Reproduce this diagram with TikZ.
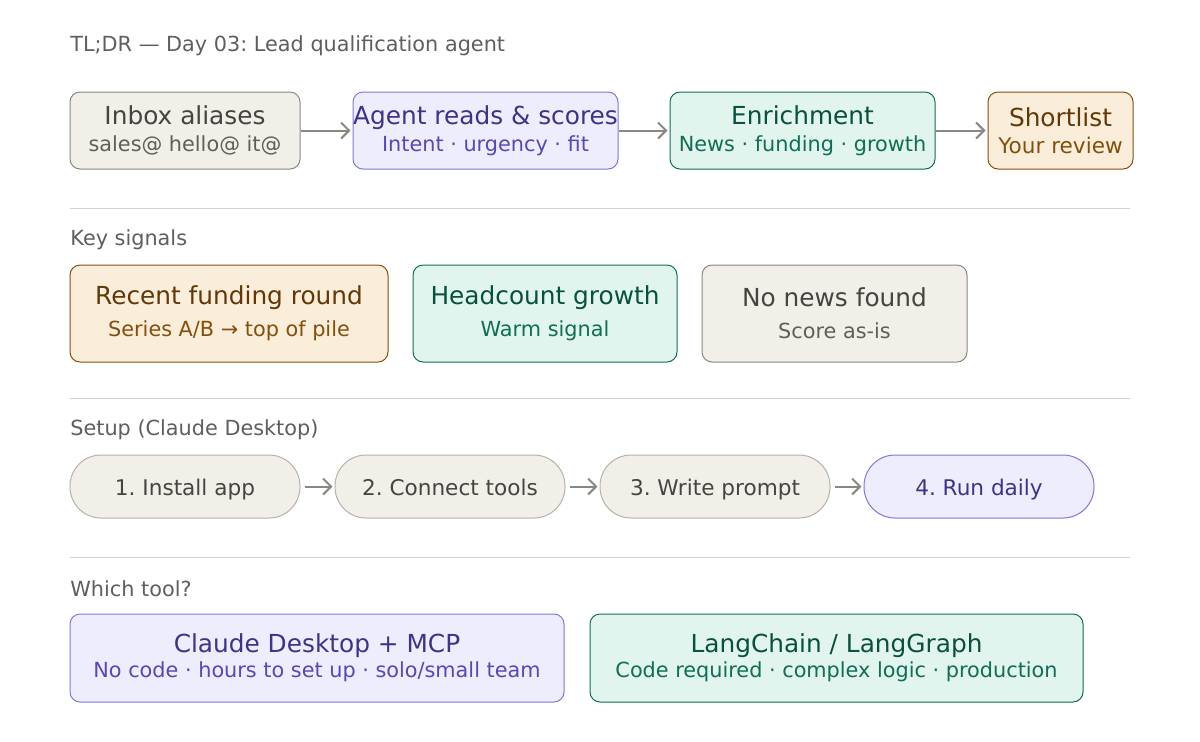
\documentclass[tikz,border=0pt]{standalone}
\usepackage{fontspec}
\setmainfont{DejaVu Sans}
\usepackage{xcolor}
\usepackage{tikz}
\usetikzlibrary{positioning,arrows.meta}
\frenchspacing
\definecolor{leadgreyfill}{HTML}{F1EFE8}
\definecolor{leadgreyline}{HTML}{888780}
\definecolor{leadgreytext}{HTML}{444441}
\definecolor{leadgreysub}{HTML}{5F5E5A}
\definecolor{leadpillline}{HTML}{B4B2A9}
\definecolor{leadpurplefill}{HTML}{EEEDFE}
\definecolor{leadpurpleline}{HTML}{7F77DD}
\definecolor{leadpurpletext}{HTML}{3C3489}
\definecolor{leadpurplesub}{HTML}{534AB7}
\definecolor{leadgreenfill}{HTML}{E1F5EE}
\definecolor{leadgreenline}{HTML}{0F6E56}
\definecolor{leadgreentext}{HTML}{085041}
\definecolor{leadgreensub}{HTML}{0F6E56}
\definecolor{leadamberfill}{HTML}{FAEEDA}
\definecolor{leadamberline}{HTML}{854F0B}
\definecolor{leadambertext}{HTML}{633806}
\definecolor{leadambersub}{HTML}{854F0B}
\definecolor{leadrule}{HTML}{D3D1C7}

\begin{document}
\begin{tikzpicture}[
  x=0.5pt,y=-0.5pt,
  card/.style={rectangle,rounded corners=5pt,line width=0.5pt,inner sep=0pt,align=center,
    font=\fontsize{12.4}{14.5}\selectfont},
  greycard/.style={card,draw=leadgreyline,fill=leadgreyfill,text=leadgreytext},
  purplecard/.style={card,draw=leadpurpleline,fill=leadpurplefill,text=leadpurpletext},
  greencard/.style={card,draw=leadgreenline,fill=leadgreenfill,text=leadgreentext},
  ambercard/.style={card,draw=leadamberline,fill=leadamberfill,text=leadambertext},
  pill/.style={rectangle,rounded corners=15.5pt,line width=0.5pt,inner sep=0pt,
    minimum width=115pt,minimum height=31.5pt,text height=11pt,text depth=2.2pt,
    font=\fontsize{10.8}{13}\selectfont},
  section/.style={anchor=west,inner sep=0pt,text=leadgreysub,font=\fontsize{10.4}{12}\selectfont},
  flow/.style={draw=leadgreyline,line width=1pt,-{Straight Barb[length=4pt,width=8pt,line width=1pt]}},
  sep/.style={draw=leadrule,line width=0.5pt}
]
\useasboundingbox (0,0) rectangle (1200,741);

\node[section] (lbl-title) at (70,46) {TL;DR — Day 03: Lead qualification agent};

% pipeline
\node[greycard,minimum width=115pt,minimum height=38.5pt] (inbox) at (185,130.5)
  {Inbox aliases\\[-1pt]{\fontsize{10.4}{12}\selectfont\color{leadgreysub}sales@ hello@ it@}};
\node[purplecard,minimum width=132.5pt,minimum height=38.5pt] (agent) at (485.5,130.5)
  {Agent reads \& scores\\[-1pt]{\fontsize{10.4}{12}\selectfont\color{leadpurplesub}Intent · urgency · fit}};
\node[greencard,minimum width=132.5pt,minimum height=38.5pt] (enrich) at (802.5,130.5)
  {Enrichment\\[-1pt]{\fontsize{10.4}{12}\selectfont\color{leadgreensub}News · funding · growth}};
\node[ambercard,minimum width=72.5pt,minimum height=38.5pt] (shortlist) at (1060.5,130.5)
  {Shortlist\\[-1pt]{\fontsize{10.8}{12}\selectfont\color{leadambersub}Your review}};
\draw[flow,shorten >=1pt] (inbox) -- (agent);
\draw[flow,shorten >=1pt] (agent) -- (enrich);
\draw[flow,shorten >=1pt] (enrich) -- (shortlist);

\draw[sep] (70,208) -- (1130,208);

% signals
\node[section] (lbl-signals) at (70,240) {Key signals};
\node[ambercard,minimum width=159pt,minimum height=48.5pt] (funding) at (229,313.5)
  {Recent funding round\\[1.5pt]{\fontsize{10.4}{12}\selectfont\color{leadambersub}Series A/B → top of pile}};
\node[greencard,minimum width=132pt,minimum height=48.5pt] (headcount) at (545,313.5)
  {Headcount growth\\[1.5pt]{\fontsize{10.4}{12}\selectfont\color{leadgreensub}Warm signal}};
\node[greycard,minimum width=132.5pt,minimum height=48.5pt] (nonews) at (834.5,313.5)
  {No news found\\[1.5pt]{\fontsize{10.4}{12}\selectfont\color{leadgreysub}Score as-is}};

\draw[sep] (70,398) -- (1130,398);

% setup
\node[section] (lbl-setup) at (70,430) {Setup (Claude Desktop)};
\node[pill,draw=leadpillline,fill=leadgreyfill,text=leadgreytext] (install) at (185,486.5) {1. Install app};
\node[pill,draw=leadpillline,fill=leadgreyfill,text=leadgreytext] (connect) at (450,486.5) {2. Connect tools};
\node[pill,draw=leadpillline,fill=leadgreyfill,text=leadgreytext] (prompt) at (715,486.5) {3. Write prompt};
\node[pill,draw=leadpurpleline,fill=leadpurplefill,text=leadpurpletext] (daily) at (979,486.5) {4. Run daily};
\draw[flow,shorten <=2pt,shorten >=1pt] (install) -- (connect);
\draw[flow,shorten <=2pt,shorten >=1pt] (connect) -- (prompt);
\draw[flow,shorten <=2pt,shorten >=1pt] (prompt) -- (daily);

\draw[sep] (70,557) -- (1130,557);

% tools
\node[section] (lbl-tool) at (70,589) {Which tool?};
\node[purplecard,minimum width=247pt,minimum height=44pt] (claude) at (317,658)
  {Claude Desktop + MCP\\[-2pt]{\fontsize{10.4}{12}\selectfont\color{leadpurplesub}No code · hours to set up · solo/small team}};
\node[greencard,minimum width=246.5pt,minimum height=44pt] (langchain) at (836.5,658)
  {LangChain / LangGraph\\[-2pt]{\fontsize{10.4}{12}\selectfont\color{leadgreensub}Code required · complex logic · production}};
\end{tikzpicture}
\end{document}
